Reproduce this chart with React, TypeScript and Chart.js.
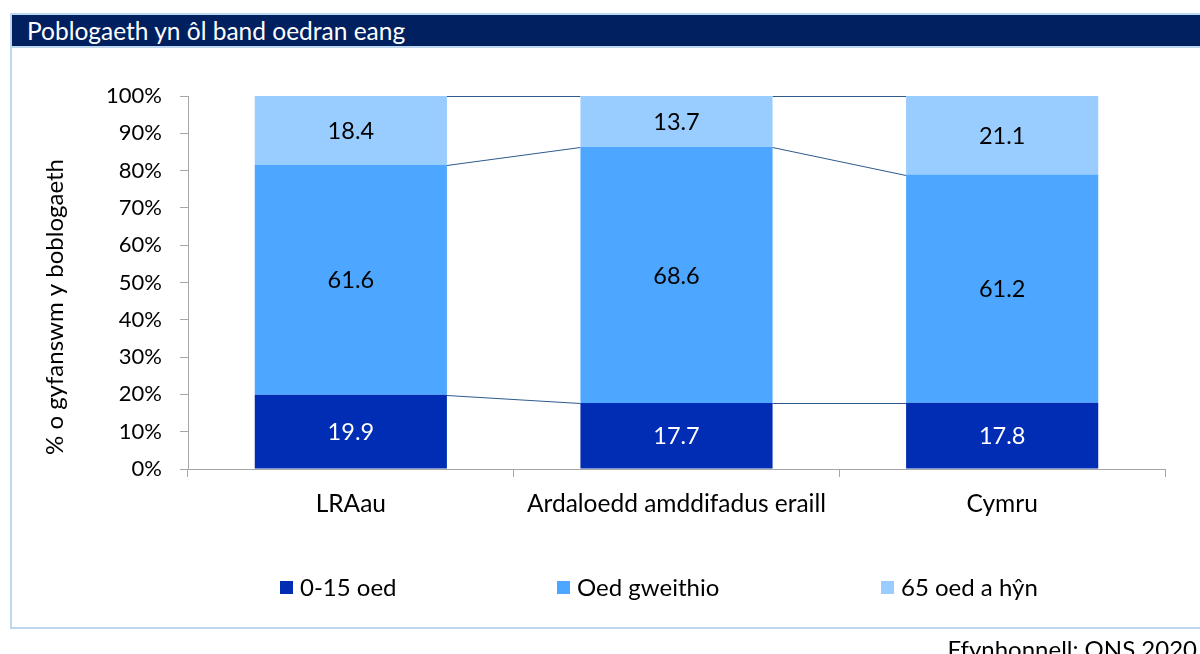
import React, { useEffect, useRef } from "react";
import { Chart, registerables } from "chart.js";

Chart.register(...registerables);

// ---- Data ----
const categories = ["LRAau", "Ardaloedd amddifadus eraill", "Cymru"];
const seriesNames = ["0-15 oed", "Oed gweithio", "65 oed a hŷn"];
const age0to15 = [19.9, 17.7, 17.8];
const workingAge = [61.6, 68.6, 61.2];
const age65plus = [18.4, 13.7, 21.1];
const yTickStep = 10;
const chartTitle = "Poblogaeth yn ôl band oedran eang";
const yAxisTitle = "% o gyfanswm y boblogaeth";
const sourceText = "Ffynhonnell: ONS 2020";

// ---- Styles ----
const seriesColors = ["#002DB3", "#4DA6FF", "#99CCFF"];
const labelColors = ["#FFFFFF", "#000000", "#000000"];
const FONT = "Lato, 'Open Sans', sans-serif";
const AXIS_GRAY = "#A6A6A6";
const NAVY = "#002060";
const FRAME = "#BDD7EE";
const SERIES_LINE = "#2E5A8C";
const legendBoxX = [280, 557, 881];

const rawSeries = [age0to15, workingAge, age65plus];
const totals = categories.map((_, i) => rawSeries.reduce((s, arr) => s + arr[i], 0));
const pctSeries = rawSeries.map((arr) => arr.map((v, i) => (v / totals[i]) * 100));

const seriesLinesPlugin = {
  id: "seriesLines",
  beforeDatasetsDraw(chart: any) {
    const ctx = chart.ctx;
    ctx.save();
    ctx.strokeStyle = SERIES_LINE;
    ctx.lineWidth = 1;
    chart.data.datasets.forEach((_: any, di: number) => {
      const meta = chart.getDatasetMeta(di);
      for (let i = 0; i < meta.data.length - 1; i++) {
        const a = meta.data[i].getProps(["x", "y", "width"], true);
        const b = meta.data[i + 1].getProps(["x", "y", "width"], true);
        ctx.beginPath();
        ctx.moveTo(a.x + a.width / 2, Math.round(a.y) + 0.5);
        ctx.lineTo(b.x - b.width / 2, Math.round(b.y) + 0.5);
        ctx.stroke();
      }
    });
    ctx.restore();
  },
};

const dataLabelsPlugin = {
  id: "dataLabels",
  afterDatasetsDraw(chart: any) {
    const ctx = chart.ctx;
    ctx.save();
    ctx.font = `23.5px ${FONT}`;
    ctx.textAlign = "center";
    ctx.textBaseline = "middle";
    chart.data.datasets.forEach((_: any, di: number) => {
      const meta = chart.getDatasetMeta(di);
      meta.data.forEach((el: any, i: number) => {
        const p = el.getProps(["x", "y", "base"], true);
        ctx.fillStyle = labelColors[di];
        ctx.fillText(rawSeries[di][i].toFixed(1), p.x, (p.y + p.base) / 2 + 1);
      });
    });
    ctx.restore();
  },
};

const extrasPlugin = {
  id: "extras",
  afterDraw(chart: any) {
    const ctx = chart.ctx;
    ctx.save();
    // y axis title
    ctx.translate(55, 307);
    ctx.rotate(-Math.PI / 2);
    ctx.font = `24px ${FONT}`;
    ctx.fillStyle = "#000000";
    ctx.textAlign = "center";
    ctx.textBaseline = "middle";
    ctx.fillText(yAxisTitle, 0, 0);
    ctx.restore();

    // legend
    ctx.save();
    ctx.font = `24px ${FONT}`;
    ctx.textBaseline = "middle";
    ctx.textAlign = "left";
    seriesNames.forEach((name, i) => {
      ctx.fillStyle = seriesColors[i];
      ctx.fillRect(legendBoxX[i], 581, 13, 13);
      ctx.fillStyle = "#000000";
      ctx.fillText(name, legendBoxX[i] + 20, 588);
    });
    ctx.restore();
  },
};

export default function App() {
  const canvasRef = useRef<HTMLCanvasElement | null>(null);

  useEffect(() => {
    if (!canvasRef.current) return;
    const chart = new Chart(canvasRef.current, {
      type: "bar",
      data: {
        labels: categories,
        datasets: seriesNames.map((name, i) => ({
          label: name,
          data: pctSeries[i],
          backgroundColor: seriesColors[i],
          borderWidth: 0,
          barPercentage: 0.59,
          categoryPercentage: 1.0,
        })),
      },
      options: {
        responsive: false,
        animation: false,
        events: [],
        layout: { padding: { left: 0, right: 35, top: 96, bottom: 115 } },
        plugins: {
          legend: { display: false },
          tooltip: { enabled: false },
          title: { display: false },
        },
        scales: {
          x: {
            stacked: true,
            afterFit: (scale: any) => {
              scale.height = 70;
            },
            grid: {
              display: true,
              drawOnChartArea: false,
              drawTicks: true,
              tickLength: 8,
              color: AXIS_GRAY,
              offset: true,
            },
            border: { display: true, color: AXIS_GRAY, width: 1 },
            ticks: {
              font: { family: FONT, size: 24.5 },
              color: "#000000",
              padding: 12,
              maxRotation: 0,
              autoSkip: false,
            },
          },
          y: {
            stacked: true,
            min: 0,
            max: 100,
            afterFit: (scale: any) => {
              scale.width = 188;
            },
            grid: {
              display: true,
              drawOnChartArea: false,
              drawTicks: true,
              tickLength: 8,
              color: AXIS_GRAY,
            },
            border: { display: true, color: AXIS_GRAY, width: 1 },
            ticks: {
              stepSize: yTickStep,
              font: { family: FONT, size: 22 },
              color: "#000000",
              padding: 18,
              callback: (v: any) => `${v}%`,
            },
          },
        },
      },
      plugins: [seriesLinesPlugin, dataLabelsPlugin, extrasPlugin],
    });
    return () => chart.destroy();
  }, []);

  return (
    <div
      style={{
        position: "absolute",
        left: 0,
        top: 0,
        width: 1200,
        height: 654,
        overflow: "hidden",
        background: "#FFFFFF",
        fontFamily: FONT,
      }}
    >
      {/* frame */}
      <div
        style={{
          position: "absolute",
          left: 10,
          top: 13,
          width: 1200,
          height: 616,
          borderLeft: `2px solid ${FRAME}`,
          borderTop: `2px solid ${FRAME}`,
          borderBottom: `2px solid ${FRAME}`,
          boxSizing: "border-box",
        }}
      />
      {/* title bar */}
      <div
        style={{
          position: "absolute",
          left: 12,
          top: 15,
          width: 1188,
          height: 31,
          background: NAVY,
          borderBottom: `2px solid ${FRAME}`,
          color: "#FFFFFF",
          fontSize: 24.5,
          lineHeight: "31px",
          paddingLeft: 15,
          boxSizing: "content-box",
          whiteSpace: "nowrap",
        }}
      >
        {chartTitle}
      </div>
      <canvas
        ref={canvasRef}
        width={1200}
        height={654}
        style={{ position: "absolute", left: 0, top: 0, width: 1200, height: 654 }}
      />
      <div
        style={{
          position: "absolute",
          right: 3,
          top: 635,
          fontSize: 24,
          lineHeight: "28px",
          color: "#000000",
          whiteSpace: "nowrap",
        }}
      >
        {sourceText}
      </div>
    </div>
  );
}
